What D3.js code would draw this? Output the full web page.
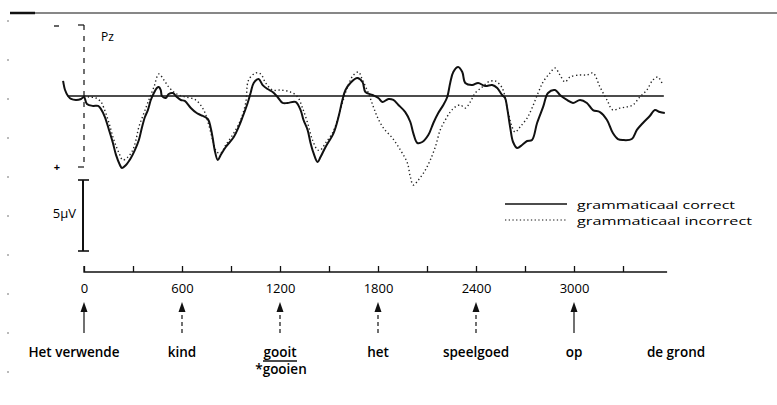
<!DOCTYPE html>
<html><head><meta charset="utf-8">
<script src="https://cdn.jsdelivr.net/npm/d3@7"></script>
<style>
body{margin:0;background:#fff;}
svg text{font-family:"Open Sans",Lato,sans-serif;fill:#000;}
</style></head>
<body><svg id="c" width="777" height="405"></svg>
<script>
// time (ms) and amplitude (µV, negative up) for the correct condition
const timeCorrect = [-128,-116,-98,-79,-49,-18,0,18,55,86,104,128,153,177,196,220,232,257,287,312,336,354,373,391,409,428,446,458,470,477,501,519,544,568,593,617,654,690,715,758,776,788,800,819,837,868,917,947,971,1002,1020,1039,1069,1094,1124,1155,1185,1216,1246,1295,1326,1344,1369,1387,1405,1430,1448,1479,1528,1558,1582,1601,1631,1674,1705,1723,1766,1802,1827,1864,1894,1925,1967,1998,2016,2041,2071,2108,2139,2169,2200,2224,2242,2261,2291,2316,2334,2377,2413,2456,2499,2530,2560,2578,2591,2609,2627,2652,2682,2713,2743,2774,2811,2841,2884,2914,2957,2994,3037,3079,3116,3159,3202,3238,3269,3299,3354,3385,3422,3464,3495,3525,3556];
const correct = [-1.06,-0.42,0,0.21,0.28,0.21,0.07,0.56,0.70,0.70,0.92,1.48,2.39,3.31,4.15,4.86,5.07,4.86,4.37,3.80,3.10,2.25,1.48,0.99,0.28,-0.21,-0.56,-0.63,-0.42,0,0.14,-0.14,-0.21,0.07,0.28,0.35,0.84,1.20,1.34,1.62,2.25,2.96,3.80,4.51,4.15,3.59,2.89,2.18,1.48,0.49,-0.21,-0.92,-1.20,-0.77,-0.49,-0.28,0.07,0.49,0.49,0.42,0.99,1.69,2.39,3.31,4.01,4.65,4.30,3.59,2.61,1.48,0.28,-0.42,-0.92,-1.27,-0.99,-0.28,-0.07,0.14,0.42,0.21,0.28,0.63,1.13,1.83,2.61,3.31,3.24,2.75,1.90,1.20,0.63,0.07,-0.92,-1.69,-2.04,-1.69,-0.92,-0.77,-0.92,-0.70,-0.77,-0.56,-0.07,0.14,0.85,2.18,3.24,3.66,3.45,3.17,3.10,1.90,0.77,-0.21,-0.42,-0.07,0.28,0.49,0.28,0.49,0.99,1.13,1.69,2.61,3.03,3.10,3.03,2.39,1.90,1.41,0.99,1.13,1.20];
// incorrect condition
const timeIncorrect = [0,31,73,104,122,153,183,214,238,269,299,318,336,367,397,428,458,489,519,550,580,623,684,733,764,788,813,837,868,917,959,990,1008,1051,1082,1112,1155,1204,1265,1308,1338,1369,1399,1430,1448,1479,1521,1552,1582,1613,1650,1680,1705,1741,1772,1796,1833,1888,1937,1980,1998,2016,2047,2090,2120,2151,2181,2212,2242,2273,2304,2334,2365,2395,2438,2475,2517,2548,2566,2591,2621,2640,2670,2713,2743,2780,2811,2853,2884,2914,2945,2976,3037,3079,3116,3159,3202,3238,3281,3324,3361,3403,3446,3483,3513,3538];
const incorrect = [0,0.07,0.14,0.42,0.85,1.90,3.10,4.01,4.51,4.30,3.80,3.10,2.18,1.20,0.28,-0.63,-1.55,-1.13,-0.63,-0.28,-0.07,0.07,0.28,0.99,2.04,3.10,3.94,4.01,3.45,2.61,1.69,0.49,-1.13,-1.62,-1.55,-0.92,-0.42,-0.42,-0.28,0.07,0.85,1.90,3.10,3.80,3.80,3.31,2.61,1.69,0.49,-0.63,-1.48,-1.69,-1.13,-0.21,0.77,1.48,2.25,2.96,3.80,4.72,5.70,6.27,5.92,5.21,4.51,3.59,2.39,1.69,1.13,0.77,0.63,0.85,0.42,-0.21,-0.63,-0.99,-1.06,-0.77,-0.42,0.85,2.18,2.54,2.18,1.55,0.85,-0.21,-0.99,-1.62,-1.97,-1.48,-0.99,-1.34,-1.48,-1.48,-1.62,-0.63,0.28,0.99,0.85,0.77,0.63,0.07,-0.42,-1.13,-1.34,-0.92];
const tickValues = [0,300,600,900,1200,1500,1800,2100,2400,2700,3000,3300];
const tickLabels = ["0","600","1200","1800","2400","3000"];
const labelTimes = [0,600,1200,1800,2400,3000];
const words = ["Het verwende","kind","gooit","het","speelgoed","op","de grond"];
const seriesNames = ["grammaticaal correct","grammaticaal incorrect"];
const calibration = 5;

const svg = d3.select("#c");
const x = d3.scaleLinear().domain([0,3000]).range([84,574]);
const y = d3.scaleLinear().domain([0,5]).range([96,167]);

// top border
svg.append("line").attr("x1",10).attr("x2",777).attr("y1",13).attr("y2",13).attr("stroke","#111").attr("stroke-width",1.2);
svg.append("line").attr("x1",10).attr("x2",35).attr("y1",13).attr("y2",13).attr("stroke","#111").attr("stroke-width",2.5);
svg.append("line").attr("x1",8).attr("x2",8).attr("y1",20).attr("y2",405).attr("stroke","#777").attr("stroke-width",1).attr("stroke-dasharray","2,37");

// polarity bracket at stimulus onset
const x0 = x(0);
svg.append("line").attr("x1",x0).attr("x2",x0).attr("y1",y(-5)).attr("y2",y(5)).attr("stroke","#111").attr("stroke-width",1.2).attr("stroke-dasharray","5,6");
[-5,5].forEach(v=>svg.append("line").attr("x1",x0-6).attr("x2",x0).attr("y1",y(v)).attr("y2",y(v)).attr("stroke","#111").attr("stroke-width",1.2));
svg.append("line").attr("x1",54).attr("x2",59).attr("y1",y(-5)+1).attr("y2",y(-5)+1).attr("stroke","#111").attr("stroke-width",1.3);
svg.append("text").attr("x",57).attr("y",y(5)+4).attr("text-anchor","middle").attr("font-size",11).attr("font-weight",700).text("+");
svg.append("text").attr("x",101).attr("y",41).attr("font-size",12).text("Pz");

// baseline
svg.append("line").attr("x1",x(-100)).attr("x2",x(3550)).attr("y1",y(0)).attr("y2",y(0)).attr("stroke","#111").attr("stroke-width",1.5);

const line = d3.line().curve(d3.curveCatmullRom.alpha(0.5));
svg.append("path").attr("d",line(timeIncorrect.map((t,i)=>[x(t),y(incorrect[i])])))
  .attr("fill","none").attr("stroke","#222").attr("stroke-width",1.4).attr("stroke-dasharray","1.3,2.6");
svg.append("path").attr("d",line(timeCorrect.map((t,i)=>[x(t),y(correct[i])])))
  .attr("fill","none").attr("stroke","#111").attr("stroke-width",2);

// calibration bar
const cy0 = 180, calLen = y(calibration)-y(0);
svg.append("line").attr("x1",x0-1).attr("x2",x0-1).attr("y1",cy0).attr("y2",cy0+calLen).attr("stroke","#111").attr("stroke-width",2);
[cy0,cy0+calLen].forEach(v=>svg.append("line").attr("x1",x0-6).attr("x2",x0+5).attr("y1",v).attr("y2",v).attr("stroke","#111").attr("stroke-width",1.6));
svg.append("text").attr("x",x0-8).attr("y",218).attr("text-anchor","end").attr("font-size",13).text(calibration+"µV");

// legend
const lg = [[204,"none",158],[220,"1.3,2.4",175]];
lg.forEach((d,i)=>{
  svg.append("line").attr("x1",505).attr("x2",567).attr("y1",d[0]).attr("y2",d[0]).attr("stroke","#111").attr("stroke-width",i?1.2:1.3).attr("stroke-dasharray",d[1]);
  svg.append("text").attr("x",577).attr("y",d[0]+5).attr("font-size",11.5)
    .attr("textLength",d[2]).attr("lengthAdjust","spacingAndGlyphs").text(seriesNames[i]);
});

// time axis
const axisY = 272;
const axis = d3.axisBottom(x).tickValues(tickValues).tickSize(-6).tickPadding(12)
  .tickFormat(d=>{const k=labelTimes.indexOf(d);return k>=0?tickLabels[k]:"";});
const g = svg.append("g").attr("transform",`translate(0,${axisY})`).call(axis);
g.select(".domain").attr("d",`M${x(0)},-6V0H${x(3570)}`).attr("stroke","#111").attr("stroke-width",1.3);
g.selectAll(".tick line").attr("stroke","#111").attr("stroke-width",1.3);
g.selectAll(".tick text").attr("font-size",13).attr("fill","#000").attr("font-family","'Open Sans',sans-serif");

// arrows and words
labelTimes.forEach((t,i)=>{
  const ax = x(t);
  svg.append("line").attr("x1",ax).attr("x2",ax).attr("y1",308).attr("y2",333).attr("stroke","#111").attr("stroke-width",1.2)
    .attr("stroke-dasharray",(i===0||i===5)?null:"4,3");
  svg.append("path").attr("d",`M${ax},302L${ax-3.5},312L${ax+3.5},312Z`).attr("fill","#111");
});
const wordX = [74, x(600), x(1200), x(1800), x(2400), x(3000), 676];
words.forEach((w,i)=>{
  svg.append("text").attr("x",wordX[i]).attr("y",357).attr("text-anchor","middle").attr("font-size",13.5).attr("font-weight",600).text(w);
});
svg.append("line").attr("x1",x(1200)-17).attr("x2",x(1200)+17).attr("y1",361).attr("y2",361).attr("stroke","#111").attr("stroke-width",1.4);
svg.append("text").attr("x",x(1200)+1).attr("y",374).attr("text-anchor","middle").attr("font-size",13.5).attr("font-weight",600).text("*gooien");
</script></body></html>
